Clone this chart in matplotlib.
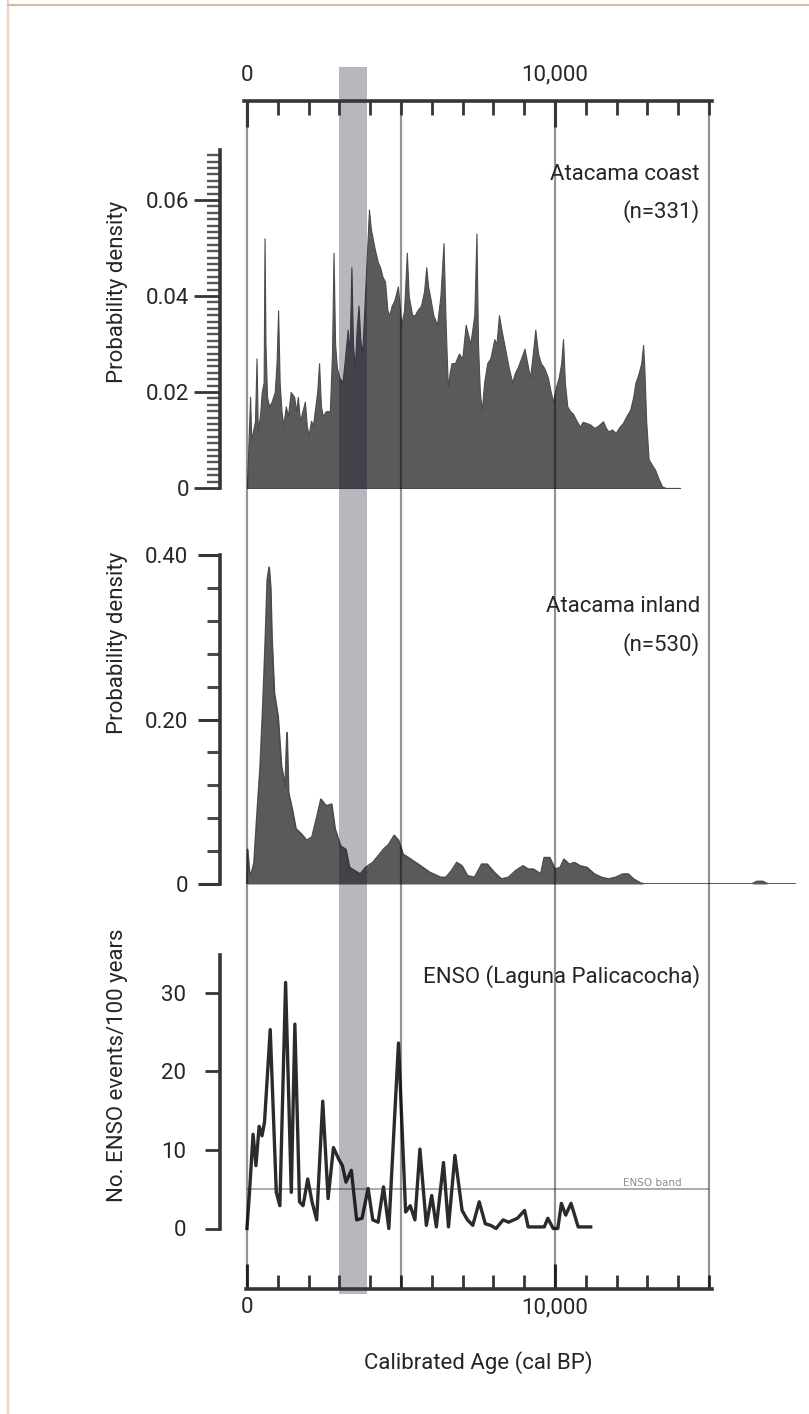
import numpy as np
import matplotlib
matplotlib.use('Agg')
import matplotlib.pyplot as plt
from matplotlib.ticker import MultipleLocator, FixedLocator
from matplotlib.lines import Line2D

plt.rcParams['font.family'] = ['Roboto', 'DejaVu Sans']

# ---- data ----
coast_age = [0, 40, 100, 140, 200, 260, 310, 350, 420, 480, 540, 570, 600, 650, 720, 800, 900, 960,
             1010, 1060, 1120, 1180, 1260, 1330, 1420, 1530, 1600, 1650, 1720, 1800, 1880, 1940,
             2000, 2080, 2140, 2200, 2280, 2340, 2400, 2460, 2560, 2690, 2760, 2810, 2860, 2920,
             3000, 3100, 3180, 3270, 3330, 3390, 3440, 3500, 3560, 3620, 3680, 3740, 3800, 3880,
             3960, 4020, 4140, 4250, 4320, 4400, 4480, 4560, 4620, 4700, 4780, 4900, 5010, 5100,
             5190, 5250, 5360, 5450, 5530, 5650, 5750, 5820, 5880, 5940, 6050, 6170, 6280, 6380,
             6450, 6520, 6580, 6640, 6750, 6880, 6990, 7100, 7250, 7380, 7450, 7500, 7560, 7620,
             7700, 7800, 7900, 8030, 8100, 8180, 8260, 8380, 8500, 8610, 8700, 8780, 8900, 9010,
             9100, 9190, 9280, 9360, 9450, 9540, 9650, 9770, 9860, 9940, 10030, 10120, 10200,
             10260, 10320, 10400, 10490, 10580, 10700, 10810, 10900, 11040, 11150, 11280, 11400,
             11560, 11650, 11740, 11850, 11970, 12100, 12200, 12320, 12440, 12540, 12610, 12720,
             12800, 12860, 12900, 12960, 13040, 13150, 13250, 13370, 13480, 13600, 14060]
coast_pd = [0.000, 0.008, 0.019, 0.010, 0.012, 0.014, 0.027, 0.012, 0.015, 0.020, 0.022, 0.052,
            0.030, 0.019, 0.017, 0.018, 0.020, 0.026, 0.037, 0.022, 0.016, 0.013, 0.017, 0.015,
            0.020, 0.019, 0.016, 0.019, 0.014, 0.016, 0.018, 0.013, 0.011, 0.014, 0.013, 0.016,
            0.020, 0.026, 0.017, 0.015, 0.016, 0.016, 0.028, 0.049, 0.030, 0.025, 0.023, 0.022,
            0.027, 0.033, 0.028, 0.046, 0.030, 0.025, 0.033, 0.038, 0.031, 0.028, 0.036, 0.047,
            0.058, 0.054, 0.050, 0.047, 0.046, 0.044, 0.043, 0.037, 0.036, 0.038, 0.039, 0.042,
            0.034, 0.037, 0.049, 0.040, 0.036, 0.036, 0.037, 0.038, 0.041, 0.046, 0.042, 0.040,
            0.036, 0.034, 0.040, 0.051, 0.034, 0.021, 0.024, 0.026, 0.026, 0.028, 0.027, 0.034,
            0.030, 0.036, 0.053, 0.030, 0.020, 0.016, 0.022, 0.026, 0.027, 0.031, 0.030, 0.036,
            0.033, 0.029, 0.025, 0.022, 0.024, 0.025, 0.027, 0.029, 0.026, 0.023, 0.028, 0.033,
            0.028, 0.026, 0.025, 0.023, 0.020, 0.018, 0.021, 0.023, 0.026, 0.031, 0.022, 0.017,
            0.016, 0.0155, 0.014, 0.0128, 0.0138, 0.0135, 0.0132, 0.0125, 0.0130, 0.0139, 0.0125,
            0.0118, 0.0122, 0.0115, 0.0128, 0.0135, 0.0150, 0.0163, 0.0190, 0.0219, 0.0240,
            0.0260, 0.0298, 0.0250, 0.0140, 0.0060, 0.0048, 0.0038, 0.0018, 0.0003, 0.0, 0.0]

inland_age = [0, 20, 80, 140, 230, 310, 430, 520, 600, 660, 720, 770, 810, 890, 1010, 1120, 1240,
              1300, 1350, 1470, 1590, 1760, 1940, 2110, 2280, 2400, 2570, 2750, 2860, 3040, 3210,
              3330, 3500, 3680, 3850, 4080, 4260, 4430, 4600, 4780, 4920, 5070, 5240, 5480, 5710,
              5940, 6290, 6460, 6640, 6810, 6980, 7160, 7390, 7620, 7800, 8030, 8260, 8490, 8720,
              8960, 9130, 9300, 9540, 9650, 9830, 10000, 10170, 10290, 10460, 10640, 10810, 11040,
              11280, 11510, 11740, 11970, 12200, 12380, 12550, 12780, 12900, 16400, 16550, 16750,
              16900, 17800]
inland_pd = [0.0, 0.042, 0.015, 0.012, 0.026, 0.075, 0.143, 0.22, 0.30, 0.37, 0.385, 0.36, 0.30,
             0.232, 0.204, 0.143, 0.119, 0.184, 0.111, 0.091, 0.067, 0.061, 0.053, 0.057, 0.083,
             0.103, 0.095, 0.097, 0.067, 0.046, 0.042, 0.020, 0.016, 0.012, 0.020, 0.026, 0.034,
             0.042, 0.048, 0.059, 0.053, 0.036, 0.032, 0.026, 0.020, 0.014, 0.008, 0.008, 0.016,
             0.026, 0.022, 0.010, 0.008, 0.024, 0.024, 0.014, 0.006, 0.008, 0.016, 0.022, 0.018,
             0.018, 0.012, 0.032, 0.032, 0.018, 0.020, 0.030, 0.024, 0.026, 0.022, 0.020, 0.012,
             0.008, 0.006, 0.008, 0.012, 0.012, 0.006, 0.001, 0.0, 0.0, 0.003, 0.003, 0.0, 0.0]

enso_age = [0, 81, 197, 290, 394, 487, 568, 754, 951, 1067, 1253, 1438, 1554, 1705, 1821, 1972,
            2111, 2262, 2459, 2633, 2807, 2981, 3097, 3213, 3387, 3561, 3735, 3932, 4083, 4257,
            4431, 4605, 4918, 5150, 5301, 5452, 5614, 5823, 5997, 6148, 6380, 6542, 6751, 6983,
            7157, 7331, 7540, 7737, 7911, 8085, 8317, 8491, 8781, 9013, 9129, 9419, 9651, 9767,
            9941, 10092, 10208, 10347, 10521, 10753, 11159]
enso_n = [0, 4.6, 12, 8, 13, 11.8, 13.5, 25.3, 4.6, 2.9, 31.3, 4.6, 26, 3.4, 2.9, 6.3, 3.4, 1.1,
          16.2, 3.8, 10.3, 8.8, 8, 5.9, 7.4, 1.1, 1.3, 5.1, 1.1, 0.8, 5.3, 0, 23.6, 2.1, 2.9, 1.1,
          10.1, 0.4, 4.2, 0.2, 8.4, 0.2, 9.3, 2.3, 1.1, 0.4, 3.4, 0.6, 0.4, 0, 1.1, 0.8, 1.3, 2.3,
          0.2, 0.2, 0.2, 1.3, 0, 0, 3.2, 1.7, 3.2, 0.2, 0.2]
enso_band = 5

grid_ages = [0, 5000, 10000, 15000]
band_ages = (3000, 3900)
age_major = [0, 10000]
age_labels = ['0', '10,000']
age_minor = [a for a in range(1000, 16000, 1000) if a != 10000]

# ---- layout (pixels of the 809x1414 picture) ----
W, H = 809, 1414
fig = plt.figure(figsize=(W / 100, H / 100), dpi=100)
fig.patch.set_facecolor('white')

PPY = 462 / 15000.0
X0 = -(247 - 220) / PPY
X1 = (800 - 247) / PPY
INK = '#363636'
FILL = '#5a5a5c'
TXT = '#262626'
FS = 16


def panel(top, bottom):
    ax = fig.add_axes([220 / W, 1 - bottom / H, 580 / W, (bottom - top) / H])
    ax.patch.set_visible(False)
    ax.set_xlim(X0, X1)
    ax.set_xticks([])
    for s in ['top', 'right', 'bottom']:
        ax.spines[s].set_visible(False)
    ax.spines['left'].set_linewidth(2.6)
    ax.spines['left'].set_color(INK)
    return ax


# Atacama coast
ax1 = panel(150, 488)
ax1.fill_between(coast_age, coast_pd, color=FILL, lw=0.8, edgecolor='#4c4c4e')
ax1.set_ylim(0, 0.0704)
ax1.yaxis.set_major_locator(FixedLocator([0, 0.02, 0.04, 0.06]))
ax1.yaxis.set_minor_locator(MultipleLocator(0.02 / 15))
ax1.set_yticklabels(['0', '0.02', '0.04', '0.06'])
ax1.tick_params(axis='y', which='major', length=19, width=2, pad=3.5, labelsize=FS,
                color=INK, labelcolor=TXT)
ax1.tick_params(axis='y', which='minor', length=9.5, width=1.7, color='#555555')

# Atacama inland
ax2 = panel(555, 884)
ax2.fill_between(inland_age, inland_pd, color=FILL, lw=0)
ax2.plot(inland_age, inland_pd, color='#4c4c4e', lw=1.3)
ax2.set_ylim(0, 0.40)
ax2.yaxis.set_major_locator(FixedLocator([0, 0.2, 0.4]))
ax2.yaxis.set_minor_locator(MultipleLocator(0.04))
ax2.set_yticklabels(['0', '0.20', '0.40'])
ax2.tick_params(axis='y', which='major', length=16, width=2.2, pad=7, labelsize=FS,
                color=INK, labelcolor=TXT)
ax2.tick_params(axis='y', which='minor', length=9.5, width=2.2, color='#4a4a4a')

# ENSO
ax3 = panel(955, 1228.5)
ax3.set_ylim(0, 34.8)
ax3.hlines(enso_band, grid_ages[0], grid_ages[-1], color='#ababab', lw=1.4)
ax3.text(13150, enso_band + 0.15, 'ENSO band', fontsize=7.5, color='#8e8e8e',
         ha='center', va='bottom', family='DejaVu Sans')
ax3.plot(enso_age, enso_n, color='#2b2b2b', lw=2.4, clip_on=False, solid_joinstyle='round')
ax3.set_yticks([0, 10, 20, 30])
ax3.tick_params(axis='y', which='major', length=10.5, width=2, pad=14, labelsize=FS,
                color=INK, labelcolor=TXT)

# shared age axes: bottom (axf) and top (axt), age lines and the shaded band
axf = fig.add_axes([220 / W, 1 - 1289 / H, 580 / W, (1289 - 101) / H])
axf.patch.set_visible(False)
axf.set_xlim(X0, X1)
axf.set_ylim(0, 1)
axf.set_yticks([])
for s in ['top', 'left', 'right']:
    axf.spines[s].set_visible(False)
axf.spines['bottom'].set_bounds(-30, 15100)
axf.spines['bottom'].set_linewidth(2.6)
axf.spines['bottom'].set_color(INK)
axf.xaxis.set_major_locator(FixedLocator(age_major))
axf.xaxis.set_minor_locator(FixedLocator(age_minor))
axf.set_xticklabels(age_labels)
axf.tick_params(axis='x', which='major', direction='in', length=18, width=2.2, pad=6,
                labelsize=FS, color=INK, labelcolor=TXT)
axf.tick_params(axis='x', which='minor', direction='in', length=10, width=2, color=INK)

axt = axf.twiny()
axt.patch.set_visible(False)
axt.set_xlim(X0, X1)
for s in ['bottom', 'left', 'right']:
    axt.spines[s].set_visible(False)
axt.spines['top'].set_bounds(-110, 15100)
axt.spines['top'].set_linewidth(2.6)
axt.spines['top'].set_color(INK)
axt.xaxis.set_major_locator(FixedLocator(age_major))
axt.xaxis.set_minor_locator(FixedLocator(age_minor))
axt.set_xticklabels(age_labels)
axt.tick_params(axis='x', which='major', direction='in', length=19, width=2.2, pad=11,
                labelsize=FS, color=INK, labelcolor=TXT)
axt.tick_params(axis='x', which='minor', direction='in', length=10, width=2, color=INK)

for a in grid_ages:
    axf.axvline(a, color='black', alpha=0.42, lw=1.6)
axf.axvspan(band_ages[0], band_ages[1], ymin=-0.004, ymax=1.0286, color='#0a0a20',
            alpha=0.29, lw=0, clip_on=False)

# texts
fig.text(700 / W, 1 - 174 / H, 'Atacama coast', ha='right', va='center', fontsize=FS, color=TXT)
fig.text(700 / W, 1 - 212 / H, '(n=331)', ha='right', va='center', fontsize=FS, color=TXT)
fig.text(700 / W, 1 - 607 / H, 'Atacama inland', ha='right', va='center', fontsize=FS, color=TXT)
fig.text(700 / W, 1 - 645 / H, '(n=530)', ha='right', va='center', fontsize=FS, color=TXT)
fig.text(700 / W, 1 - 977 / H, 'ENSO (Laguna Palicacocha)', ha='right', va='center', fontsize=FS,
         color=TXT)

fig.text(117 / W, 1 - 292 / H, 'Probability density', rotation=90, ha='center', va='center',
         fontsize=FS, color=TXT)
fig.text(117 / W, 1 - 643 / H, 'Probability density', rotation=90, ha='center', va='center',
         fontsize=FS, color=TXT)
fig.text(117 / W, 1 - 1065 / H, 'No. ENSO events/100 years', rotation=90, ha='center', va='center',
         fontsize=FS, color=TXT)
fig.text(478 / W, 1 - 1363 / H, 'Calibrated Age (cal BP)', ha='center', va='center', fontsize=FS,
         color=TXT)

# thin scan border of the page
fig.add_artist(Line2D([8 / W, 8 / W], [0, 1], transform=fig.transFigure, color='#ead6c9', lw=1.6))
fig.add_artist(Line2D([8 / W, 1], [1 - 5 / H, 1 - 5 / H], transform=fig.transFigure,
                      color='#d9baa4', lw=1.6))

fig.savefig('out.png', dpi=100)
